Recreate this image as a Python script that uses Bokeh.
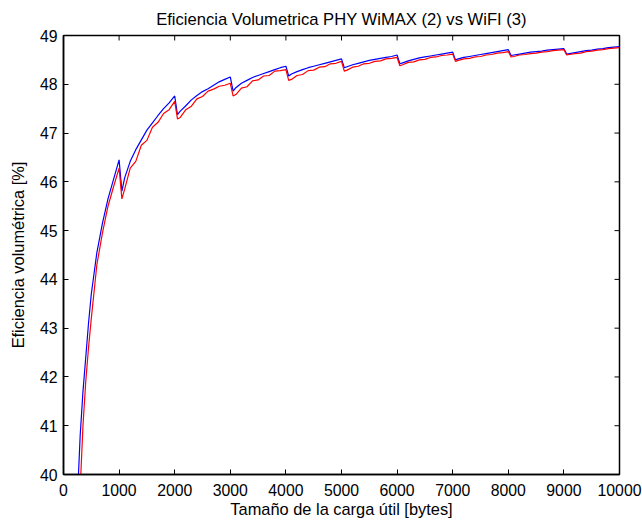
from bokeh.plotting import figure
from bokeh.models import Range1d, FixedTicker
from bokeh.embed import file_html
from bokeh.resources import INLINE

title_text = "Eficiencia Volumetrica PHY WiMAX (2) vs WiFI (3)"
x_label = "Tamaño de la carga útil [bytes]"
y_label = "Eficiencia volumétrica [%]"

x_ticks = [0, 1000, 2000, 3000, 4000, 5000, 6000, 7000, 8000, 9000, 10000]
y_ticks = [40, 41, 42, 43, 44, 45, 46, 47, 48, 49]

payload = [250, 300, 350, 400, 450, 500, 600, 700, 800, 900, 1000,
           1050, 1100, 1200, 1300, 1400, 1500, 1600, 1700, 1800, 1900, 2000,
           2050, 2100, 2200, 2300, 2400, 2500, 2600, 2700, 2800, 2900, 3000,
           3050, 3100, 3200, 3300, 3400, 3500, 3600, 3700, 3800, 3900, 4000,
           4050, 4100, 4200, 4300, 4400, 4500, 4600, 4700, 4800, 4900, 5000,
           5050, 5100, 5200, 5300, 5400, 5500, 5600, 5700, 5800, 5900, 6000,
           6050, 6100, 6200, 6300, 6400, 6500, 6600, 6700, 6800, 6900, 7000,
           7050, 7100, 7200, 7300, 7400, 7500, 7600, 7700, 7800, 7900, 8000,
           8050, 8100, 8200, 8300, 8400, 8500, 8600, 8700, 8800, 8900, 9000,
           9050, 9100, 9200, 9300, 9400, 9500, 9600, 9700, 9800, 9900, 10000]

wimax = [39.5, 40.8, 41.7, 42.4, 43.1, 43.7, 44.55, 45.15, 45.65, 46.05, 46.45,
         45.81, 46.08, 46.42, 46.66, 46.86, 47.06, 47.21, 47.36, 47.50, 47.62, 47.76,
         47.38, 47.45, 47.56, 47.68, 47.77, 47.85, 47.91, 47.98, 48.05, 48.10, 48.15,
         47.86, 47.93, 48.02, 48.08, 48.14, 48.18, 48.22, 48.26, 48.30, 48.34, 48.37,
         48.17, 48.21, 48.26, 48.30, 48.34, 48.37, 48.40, 48.43, 48.46, 48.49, 48.52,
         48.34, 48.36, 48.40, 48.43, 48.46, 48.49, 48.51, 48.53, 48.55, 48.57, 48.60,
         48.42, 48.44, 48.48, 48.51, 48.54, 48.56, 48.58, 48.60, 48.62, 48.64, 48.66,
         48.50, 48.52, 48.55, 48.57, 48.59, 48.61, 48.63, 48.65, 48.67, 48.69, 48.71,
         48.59, 48.60, 48.62, 48.64, 48.66, 48.67, 48.68, 48.70, 48.71, 48.72, 48.73,
         48.62, 48.63, 48.65, 48.67, 48.69, 48.70, 48.72, 48.73, 48.75, 48.76, 48.77]

wifi = [38.5, 39.7, 41.0, 41.9, 42.6, 43.2, 44.3, 44.95, 45.5, 45.9, 46.28,
        45.65, 45.85, 46.28, 46.42, 46.75, 46.85, 47.12, 47.22, 47.40, 47.48, 47.65,
        47.29, 47.32, 47.48, 47.55, 47.70, 47.75, 47.86, 47.90, 47.96, 47.98, 48.02,
        47.76, 47.79, 47.92, 47.95, 48.07, 48.09, 48.17, 48.18, 48.27, 48.28, 48.30,
        48.08, 48.10, 48.18, 48.20, 48.28, 48.29, 48.35, 48.36, 48.42, 48.43, 48.47,
        48.27, 48.29, 48.35, 48.37, 48.42, 48.43, 48.47, 48.48, 48.52, 48.53, 48.55,
        48.38, 48.40, 48.45, 48.46, 48.50, 48.51, 48.55, 48.56, 48.59, 48.60, 48.62,
        48.47, 48.49, 48.52, 48.53, 48.56, 48.57, 48.60, 48.61, 48.64, 48.65, 48.67,
        48.56, 48.57, 48.60, 48.61, 48.63, 48.64, 48.66, 48.67, 48.69, 48.70, 48.71,
        48.60, 48.61, 48.63, 48.64, 48.67, 48.68, 48.70, 48.71, 48.73, 48.74, 48.75]

FONT = "Liberation Sans"
FS_TICK = "15.8px"
FS_LABEL = "16.4px"
FS_TITLE = "16.6px"
X0, X1, Y0, Y1 = 0, 10000, 40, 49

p = figure(width=642, height=522, output_backend="svg", toolbar_location=None,
           x_range=Range1d(X0, X1), y_range=Range1d(Y0, Y1),
           min_border_left=63, min_border_right=23, min_border_top=34,
           min_border_bottom=48)
p.title.text = title_text
p.title.text_font = FONT
p.title.text_font_size = FS_TITLE
p.title.text_font_style = "normal"
p.title.align = "center"
p.title.text_color = "#000000"
p.title.standoff = 14

p.grid.visible = False
p.outline_line_color = "#000000"
p.outline_line_width = 1.5
p.background_fill_color = "white"
p.border_fill_color = "white"

p.line(payload, wimax, line_color="#0000ff", line_width=1.2)
p.line(payload, wifi, line_color="#ff0000", line_width=1.2)

# inward tick marks on the top and right edges of the box (MATLAB style)
tick_len_y = (Y1 - Y0) * 5 / 440.0
tick_len_x = (X1 - X0) * 5 / 556.0
p.segment(x0=x_ticks, y0=[Y1] * len(x_ticks), x1=x_ticks,
          y1=[Y1 - tick_len_y] * len(x_ticks), line_color="#000000", line_width=1)
p.segment(x0=[X1] * len(y_ticks), y0=y_ticks, x1=[X1 - tick_len_x] * len(y_ticks),
          y1=y_ticks, line_color="#000000", line_width=1)

for ax in (p.xaxis[0], p.yaxis[0]):
    ax.major_tick_in = 5
    ax.major_tick_out = 0
    ax.minor_tick_in = 0
    ax.minor_tick_out = 0
    ax.axis_line_color = "#000000"
    ax.axis_line_width = 1.5
    ax.major_tick_line_color = "#000000"
    ax.major_label_text_font = FONT
    ax.major_label_text_font_size = FS_TICK
    ax.major_label_text_color = "#000000"
    ax.axis_label_text_font = FONT
    ax.axis_label_text_font_size = FS_LABEL
    ax.axis_label_text_font_style = "normal"
    ax.axis_label_text_color = "#000000"

p.xaxis[0].ticker = FixedTicker(ticks=x_ticks)
p.yaxis[0].ticker = FixedTicker(ticks=y_ticks)
p.xaxis[0].axis_label = x_label
p.yaxis[0].axis_label = y_label
p.xaxis[0].major_label_standoff = 9
p.xaxis[0].axis_label_standoff = 1
p.yaxis[0].major_label_standoff = 6
p.yaxis[0].axis_label_standoff = 10

open("out.html", "w").write(file_html(p, INLINE))
